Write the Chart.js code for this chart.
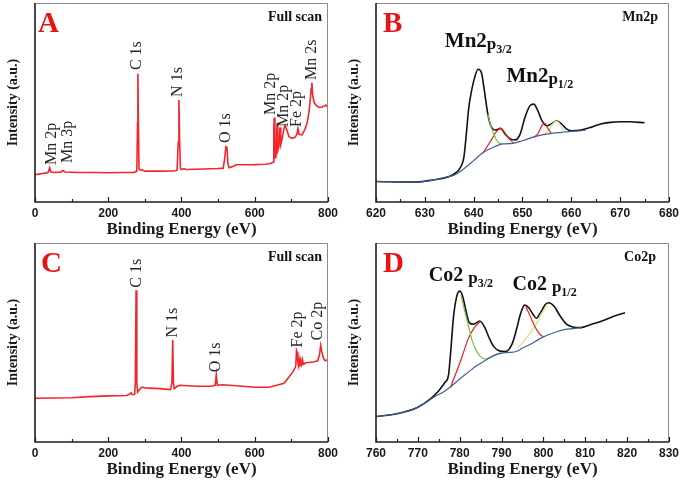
<!DOCTYPE html>
<html>
<head>
<meta charset="utf-8">
<script src="https://cdn.jsdelivr.net/npm/chart.js@4.4.1/dist/chart.umd.min.js"></script>
<style>
  body { margin: 0; background: #fff; width: 685px; height: 480px; position: relative; overflow: hidden; }
  canvas { position: absolute; }
</style>
</head>
<body>
<canvas id="chA" width="342" height="240" style="left:0;top:0"></canvas>
<canvas id="chB" width="342" height="240" style="left:341px;top:0"></canvas>
<canvas id="chC" width="342" height="240" style="left:0;top:240px"></canvas>
<canvas id="chD" width="342" height="240" style="left:341px;top:240px"></canvas>
<script>
// ---- data (intensity in arbitrary units, 0-100 of the frame) ----

// A: full scan, sample 1
var aEnergy = [0, 10, 20, 30, 36, 40, 43, 50, 70, 76, 82, 120, 160, 200, 240, 270, 278, 280, 281, 282, 284, 288, 292, 300, 340, 380, 388, 391, 393, 395, 397, 400, 408, 412, 460, 500, 514, 518, 521, 524, 527, 530, 540, 550, 600, 630, 645, 650, 652, 653, 655, 658, 661, 663, 666, 669, 671, 675, 680, 683, 688, 693, 701, 710, 715, 718, 721, 729, 737, 743, 748, 752, 754, 756, 758, 762, 767, 775, 784, 790, 794, 800];
var aCounts = [13.7, 14.0, 14.3, 14.5, 15, 17.2, 15.2, 14.8, 15.0, 15.8, 15.1, 14.8, 14.8, 14.7, 14.8, 14.9, 15.5, 40, 64.5, 45, 16.5, 16, 16.2, 15.5, 15.5, 15.6, 16, 30, 51.2, 30, 17, 16.3, 16.8, 16.3, 16.6, 16.8, 17, 22, 27.8, 27.5, 19, 17.2, 17.8, 18.7, 18.8, 19, 19.5, 20, 35, 42.5, 22, 22.5, 39.5, 26, 28, 37.5, 29, 32, 37, 38.5, 36, 33, 32, 32.5, 34, 37, 34, 33.7, 36.5, 39.7, 45, 52, 57, 60, 54, 50, 48.7, 47.5, 47.7, 48.2, 48.7, 47.5];

// C: full scan, sample 2
var cEnergy = [0, 50, 100, 150, 200, 250, 258, 262, 266, 272, 274, 276, 278, 280, 286, 292, 300, 340, 370, 374, 376, 378, 380, 388, 395, 440, 480, 492, 495, 498, 510, 550, 600, 640, 680, 695, 705, 712, 714, 716, 718, 720, 722, 724, 726, 728, 730, 733, 740, 760, 772, 777, 780, 783, 787, 791, 800];
var cCounts = [22, 22.1, 22.2, 22.8, 23.2, 23.4, 24, 24.8, 23.8, 24, 30, 76.2, 30, 25, 26.5, 27.6, 27.2, 26.8, 26.3, 30, 51.2, 30, 26.8, 28, 28.5, 28, 28, 28.5, 33.8, 28.5, 28.8, 28.3, 27.5, 27.5, 29.5, 33, 35.5, 38, 46, 45, 39.5, 38, 41, 38.5, 40.5, 39, 41.5, 39, 39.8, 40.2, 40.8, 44, 48.5, 45.5, 42.5, 41, 41];

// B: Mn 2p high resolution
var bEnergy = [620, 628, 632, 635, 636.5, 637.1, 638, 638.5, 639, 639.5, 640.2, 640.9, 641.6, 642.2, 642.9, 643.6, 644.5, 645.5, 646.5, 647.5, 648.5, 649.5, 650.5, 651.5, 652.3, 653, 654, 655, 656, 657, 658, 659, 660, 662, 664, 666, 668, 670, 672, 675];
var bEnvelope = [10.3, 10, 11.2, 12.8, 15, 16.7, 22.5, 34.2, 47.5, 55, 62.5, 66.7, 65, 55.8, 44.2, 37.8, 36.2, 37, 34, 31.7, 31.2, 34, 42.5, 48.3, 49.2, 46.7, 40.8, 38.3, 39.5, 40.8, 39.2, 36.7, 35.8, 36.2, 37.5, 39.2, 40, 40.3, 40.3, 39.8];
var bBgEnergy = [620, 628, 632, 634, 636, 638, 640, 642, 644, 646, 648, 650, 652, 654, 656, 658, 660, 662, 663];
var bBackground = [10.3, 10, 11.2, 12.3, 13.5, 16.7, 20.8, 25, 27.5, 29.2, 29.5, 30.8, 32.5, 33.7, 34.5, 35, 35.5, 35.8, 36.2];
var bGreenEnergy = [642.9, 643.5, 644.2, 645, 645.8];
var bGreen = [44, 38.5, 33.5, 30, 29.2];
var bRed1Energy = [641.8, 642.8, 643.8, 644.7, 645.5, 646.3, 647.2, 648.2];
var bRed1 = [24.3, 28, 32, 35.5, 37, 35, 32, 29.6];
var bRed2Energy = [652.3, 653.2, 654, 654.6, 655.2, 655.9];
var bRed2 = [32.4, 34.5, 38.5, 39.5, 37, 34.4];
var bYellowEnergy = [654.5, 655.5, 656.3, 657, 657.8, 658.6];
var bYellow = [34, 36.5, 39.5, 40.6, 38.5, 35];

// D: Co 2p high resolution
var dEnergy = [760, 765, 770, 773, 775, 776.5, 777.3, 777.8, 778.5, 779.3, 780, 780.7, 781.5, 782.3, 783.3, 784.8, 786, 787, 788, 789.5, 791, 792.5, 793.5, 794.5, 795.5, 796.5, 797.5, 798.3, 799.3, 800.5, 801.3, 802.5, 804, 805.5, 807, 809, 811, 814, 817, 819.5];
var dEnvelope = [12.8, 14.2, 17.5, 21.7, 25.8, 30, 33.3, 44.2, 62.5, 73.3, 75.8, 73.3, 65.8, 60, 59.2, 60.8, 57.5, 52.5, 48.3, 45.8, 45.5, 49.2, 56, 64.2, 68.8, 67.5, 64.2, 62.2, 65, 69.2, 70, 68.3, 63.3, 59.2, 57.8, 57.5, 58.8, 60.8, 63.3, 65];
var dBgEnergy = [760, 765, 770, 772, 774, 776, 778, 780, 782, 784, 786, 788, 790, 792, 793.5, 795, 797, 799, 801, 803, 805, 807, 809];
var dBackground = [12.8, 14.2, 17.5, 20, 22.8, 25, 28, 31.7, 35, 38.3, 40.8, 43.3, 44.7, 45, 45.5, 47.2, 49.2, 51.7, 53.8, 55.3, 56.5, 57, 57.5];
var dGreenEnergy = [780.3, 781, 782, 783, 784, 785, 786, 787, 788.5, 790];
var dGreen = [74, 67.5, 59, 50.8, 45.8, 42.8, 41.7, 42.3, 43.8, 44.9];
var dRed1Energy = [777.8, 779, 780.5, 782, 783.5, 784.8];
var dRed1 = [27.5, 34, 42.5, 51.7, 57.5, 60.3];
var dRed2Energy = [795.8, 797, 798, 799, 800];
var dRed2 = [68, 62.5, 57.8, 54.5, 52.8];
var dYellowEnergy = [794, 796, 798, 799.5, 801];
var dYellow = [47.5, 52.5, 58.3, 64.2, 69.2];

// ---- peak labels (anchored in data units) ----
var aPeakLabels = [
  ['Mn 2p', 46, 18.6], ['Mn 3p', 90, 19.6], ['C 1s', 278, 66.3], ['N 1s', 389, 52.8],
  ['O 1s', 522, 29.6], ['Mn 2p', 645, 43.7], ['Mn 2p', 680, 37.7], ['Fe 2p', 716, 37.7], ['Mn 2s', 756, 61.3]
];
var cPeakLabels = [
  ['C 1s', 278, 77.5], ['N 1s', 376, 52.5], ['O 1s', 495, 35], ['Fe 2p', 718, 47.5], ['Co 2p', 773, 51]
];
var bPeakLabels = [
  ['Mn2', 'p', '3/2', 634.1, 77.9], ['Mn2', 'p', '1/2', 646.7, 60.3]
];
var dPeakLabels = [
  ['Co2 ', 'p', '3/2', 772.6, 80.9], ['Co2 ', 'p', '1/2', 792.6, 76.4]
];

function pts(xs, ys) {
  return xs.map(function (x, i) { return { x: x, y: ys[i] }; });
}

var SERIF = '"Liberation Serif", "Times New Roman", serif';

var panelDecor = {
  id: 'panelDecor',
  afterDraw: function (chart, args, o) {
    var ctx = chart.ctx, a = chart.chartArea, xs = chart.scales.x, ys = chart.scales.y;
    ctx.save();
    // frame: grey top/right, dark left/bottom
    ctx.lineWidth = 1;
    ctx.strokeStyle = '#8a8a8a';
    ctx.beginPath();
    ctx.moveTo(a.left, a.top + 0.5);
    ctx.lineTo(a.right - 0.5, a.top + 0.5);
    ctx.lineTo(a.right - 0.5, a.bottom);
    ctx.stroke();
    ctx.lineWidth = 1.6;
    ctx.strokeStyle = '#1e1e1e';
    ctx.beginPath();
    ctx.moveTo(a.left, a.top);
    ctx.lineTo(a.left, a.bottom);
    ctx.lineTo(a.right, a.bottom);
    ctx.stroke();
    // inward ticks on the bottom axis
    ctx.lineWidth = 1.2;
    var n = Math.round((xs.max - xs.min) / o.minor);
    for (var i = 0; i <= n; i++) {
      var px = Math.round(xs.getPixelForValue(xs.min + i * o.minor)) + 0.5;
      var len = (i % 2 === 0) ? 5 : 3;
      ctx.beginPath();
      ctx.moveTo(px, a.bottom);
      ctx.lineTo(px, a.bottom - len);
      ctx.stroke();
    }
    // panel letter
    ctx.fillStyle = '#ee1111';
    ctx.font = 'bold 29px ' + SERIF;
    ctx.textAlign = 'left';
    ctx.textBaseline = 'alphabetic';
    ctx.fillText(o.letter, a.left + o.letterDx, 32);
    // corner title
    ctx.fillStyle = '#111';
    ctx.font = 'bold 14px ' + SERIF;
    ctx.textAlign = 'right';
    ctx.textBaseline = 'middle';
    ctx.fillText(o.corner, a.right - o.cornerDx, 17);
    // rotated survey labels
    (o.rotated || []).forEach(function (l) {
      ctx.save();
      ctx.translate(xs.getPixelForValue(l[1]), ys.getPixelForValue(l[2]));
      ctx.rotate(-Math.PI / 2);
      ctx.fillStyle = '#262626';
      ctx.font = '16px ' + SERIF;
      ctx.textAlign = 'left';
      ctx.textBaseline = 'middle';
      ctx.fillText(l[0], 0, 0);
      ctx.restore();
    });
    // orbital labels with subscripts
    (o.orbitals || []).forEach(function (l) {
      var x = xs.getPixelForValue(l[3]), y = ys.getPixelForValue(l[4]);
      ctx.fillStyle = '#111';
      ctx.textAlign = 'left';
      ctx.textBaseline = 'alphabetic';
      ctx.font = 'bold ' + o.bigSize + 'px ' + SERIF;
      ctx.fillText(l[0], x, y);
      x += ctx.measureText(l[0]).width;
      ctx.font = 'bold ' + o.pSize + 'px ' + SERIF;
      ctx.fillText(l[1], x, y + 2);
      x += ctx.measureText(l[1]).width;
      ctx.font = 'bold 12px ' + SERIF;
      ctx.fillText(l[2], x, y + 6);
    });
    ctx.restore();
  }
};

function line(data, color, width, smooth) {
  return {
    data: data,
    borderColor: color,
    borderWidth: width,
    pointRadius: 0,
    fill: false,
    tension: 0,
    cubicInterpolationMode: smooth ? 'monotone' : 'default'
  };
}

function makeChart(id, datasets, xMin, xMax, step, decor) {
  return new Chart(document.getElementById(id), {
    type: 'line',
    data: { datasets: datasets },
    options: {
      responsive: false,
      animation: false,
      events: [],
      layout: { padding: { left: 0, right: 13, top: 3, bottom: 0 } },
      plugins: {
        legend: { display: false },
        tooltip: { enabled: false },
        panelDecor: decor
      },
      scales: {
        x: {
          type: 'linear',
          min: xMin,
          max: xMax,
          grid: { display: false, drawTicks: false },
          border: { display: false },
          ticks: {
            stepSize: step,
            padding: 4,
            color: '#1a1a1a',
            font: { family: '"Liberation Sans", Arial, sans-serif', size: 12, weight: 'bold' }
          },
          title: {
            display: true,
            text: 'Binding Energy (eV)',
            color: '#1a1a1a',
            padding: 0,
            font: { family: SERIF, size: 17, weight: 'bold' }
          },
          afterFit: function (s) { s.height = 38; }
        },
        y: {
          min: 0,
          max: 100,
          grid: { display: false },
          border: { display: false },
          ticks: { display: false },
          title: {
            display: true,
            text: 'Intensity (a.u.)',
            color: '#1a1a1a',
            padding: 0,
            font: { family: SERIF, size: 14, weight: 'bold', lineHeight: 1.85 }
          },
          afterFit: function (s) { s.width = 35; }
        }
      }
    },
    plugins: [panelDecor]
  });
}

var RED = '#f2262b', BLACK = '#111111', BLUE = '#3f5f96', LRED = '#e8221c', GREEN = '#78c043', YELLOW = '#dfe59a';

makeChart('chA', [line(pts(aEnergy, aCounts), RED, 1.6, false)], 0, 800, 200,
  { minor: 100, letter: 'A', letterDx: 3, corner: 'Full scan', cornerDx: 6, rotated: aPeakLabels });

makeChart('chC', [line(pts(cEnergy, cCounts), RED, 1.6, false)], 0, 800, 200,
  { minor: 100, letter: 'C', letterDx: 6, corner: 'Full scan', cornerDx: 6, rotated: cPeakLabels });

makeChart('chB', [
  line(pts(bBgEnergy, bBackground), BLUE, 1.2, true),
  line(pts(bGreenEnergy, bGreen), GREEN, 1.2, true),
  line(pts(bRed1Energy, bRed1), LRED, 1.2, true),
  line(pts(bRed2Energy, bRed2), LRED, 1.2, true),
  line(pts(bYellowEnergy, bYellow), YELLOW, 1.5, true),
  line(pts(bEnergy, bEnvelope), BLACK, 1.6, true)
], 620, 680, 10,
  { minor: 5, letter: 'B', letterDx: 7, corner: 'Mn2p', cornerDx: 11, orbitals: bPeakLabels, bigSize: 21, pSize: 17 });

makeChart('chD', [
  line(pts(dBgEnergy, dBackground), BLUE, 1.2, true),
  line(pts(dGreenEnergy, dGreen), GREEN, 1.2, true),
  line(pts(dRed1Energy, dRed1), LRED, 1.2, true),
  line(pts(dRed2Energy, dRed2), LRED, 1.2, true),
  line(pts(dYellowEnergy, dYellow), YELLOW, 1.5, true),
  line(pts(dEnergy, dEnvelope), BLACK, 1.6, true)
], 760, 830, 10,
  { minor: 5, letter: 'D', letterDx: 7, corner: 'Co2p', cornerDx: 13, orbitals: dPeakLabels, bigSize: 20, pSize: 17 });
</script>
</body>
</html>
